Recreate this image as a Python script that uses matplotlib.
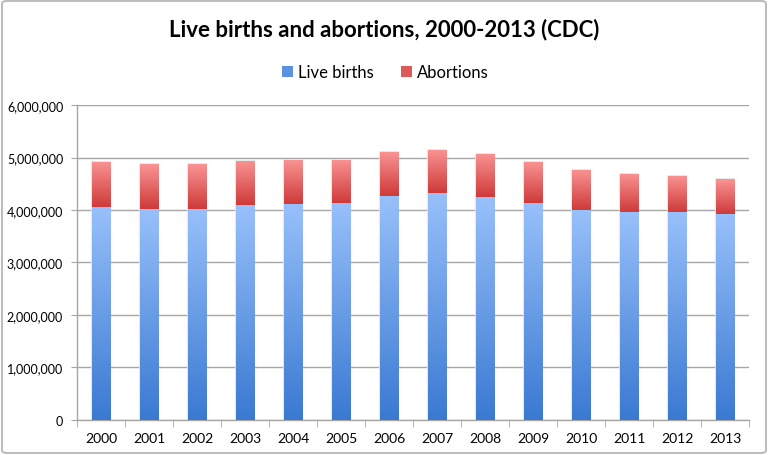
import matplotlib
matplotlib.use("Agg")
import matplotlib.pyplot as plt
import numpy as np
from matplotlib.colors import LinearSegmentedColormap
from matplotlib.patches import FancyBboxPatch, Rectangle
from matplotlib.ticker import FuncFormatter, MultipleLocator
from matplotlib.legend_handler import HandlerBase

years = ["2000", "2001", "2002", "2003", "2004", "2005", "2006",
         "2007", "2008", "2009", "2010", "2011", "2012", "2013"]
live_births = [4058814, 4025933, 4021726, 4089950, 4112052, 4138349, 4265555,
               4316233, 4247694, 4130665, 3999386, 3953590, 3952841, 3932181]
abortions = [857475, 853485, 854122, 848163, 839226, 820151, 846181,
             827609, 825564, 789217, 765651, 730322, 699202, 664435]

plt.rcParams['font.family'] = ['Lato', 'DejaVu Sans']

fig = plt.figure(figsize=(7.68, 4.56), dpi=100)
ax = fig.add_axes([0.1003, 0.0768, 0.8750, 0.6907])

blue_cmap = LinearSegmentedColormap.from_list("b", ["#3b79d2", "#98c0fb"])
red_cmap = LinearSegmentedColormap.from_list("r", ["#cf3a3a", "#fa9494"])
grad = np.linspace(0, 1, 256).reshape(-1, 1)

x = np.arange(len(years))
width = 0.38
b1 = ax.bar(x, live_births, width, color="none", edgecolor="#e4e4e4", linewidth=1.2, zorder=2.5, label="Live births")
b2 = ax.bar(x, abortions, width, bottom=live_births, color="none", edgecolor="#e4e4e4", linewidth=1.2, zorder=2.5, label="Abortions")

for bars, cmap in ((b1, blue_cmap), (b2, red_cmap)):
    for p in bars:
        x0, y0 = p.get_x(), p.get_y()
        w, h = p.get_width(), p.get_height()
        im = ax.imshow(grad, cmap=cmap, origin="lower", aspect="auto",
                       extent=[x0, x0 + w, y0, y0 + h], zorder=3)
        im.set_clip_path(p)

ax.set_xlim(-0.5, len(years) - 0.5)
ax.set_ylim(0, 6000000)
ax.yaxis.set_major_locator(MultipleLocator(1000000))
ax.yaxis.set_major_formatter(FuncFormatter(lambda v, p: f"{int(v):,}"))
ax.grid(axis="y", color="#a6a6a6", linewidth=1.0, zorder=0)
ax.set_axisbelow(True)
for s in ("top", "right"):
    ax.spines[s].set_visible(False)
for s in ("left", "bottom"):
    ax.spines[s].set_color("#a6a6a6")
    ax.spines[s].set_linewidth(1.0)

ax.set_xticks(x)
ax.set_xticklabels(years)
ax.set_xticks(np.arange(-0.5, len(years)), minor=True)
ax.tick_params(axis="x", which="major", length=0, pad=9, labelsize=10)
ax.tick_params(axis="x", which="minor", length=5, color="#a6a6a6", direction="out")
ax.tick_params(axis="y", length=4, color="#a6a6a6", pad=6, labelsize=9)

fig.text(0.5, 1 - 30 / 456, "Live births and abortions, 2000-2013 (CDC)",
         ha="center", va="center", fontsize=16, fontweight="bold")


class GradHandler(HandlerBase):
    def __init__(self, cmap):
        super().__init__()
        self.cmap = cmap

    def create_artists(self, legend, orig_handle, xdescent, ydescent, width, height, fontsize, trans):
        s = 8
        r = Rectangle((width - s - xdescent, (height - s) / 2 - ydescent), s, s,
                      facecolor=self.cmap(0.35), edgecolor="none", transform=trans)
        return [r]


leg = fig.legend([b1, b2], ["Live births", "Abortions"], loc="center",
                 bbox_to_anchor=(0.5, 1 - 73 / 456), ncol=2, frameon=False,
                 fontsize=12, handlelength=0.8, handletextpad=0.3, columnspacing=1.5,
                 handler_map={b1: GradHandler(blue_cmap), b2: GradHandler(red_cmap)})

border = FancyBboxPatch((2 / 768, 2 / 456), 1 - 4 / 768, 1 - 4 / 456,
                        boxstyle="round,pad=0,rounding_size=0.006",
                        transform=fig.transFigure, facecolor="none",
                        edgecolor="#bdbdbd", linewidth=1.5)
fig.patches.append(border)

fig.savefig("out.png", dpi=100)
